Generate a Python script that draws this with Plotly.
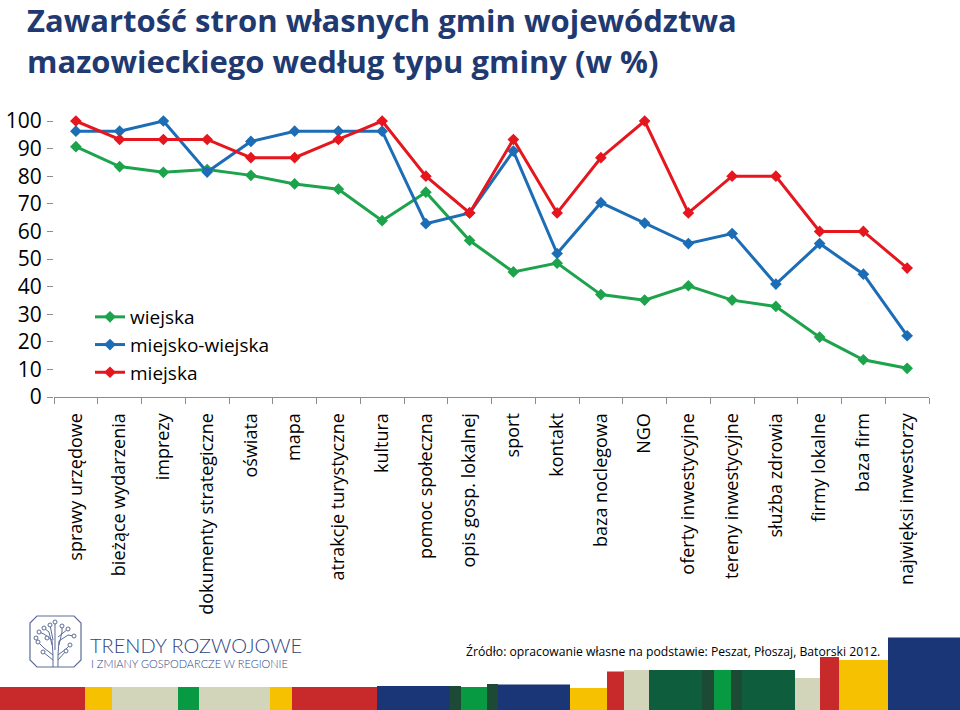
import plotly.graph_objects as go

categories = [
    "sprawy urzędowe", "bieżące wydarzenia", "imprezy", "dokumenty strategiczne",
    "oświata", "mapa", "atrakcje turystyczne", "kultura", "pomoc społeczna",
    "opis gosp. lokalnej", "sport", "kontakt", "baza noclegowa", "NGO",
    "oferty inwestycyjne", "tereny inwestycyjne", "służba zdrowia",
    "firmy lokalne", "baza firm", "najwięksi inwestorzy",
]
wiejska = [90.7, 83.5, 81.4, 82.4, 80.3, 77.2, 75.3, 63.9, 74.2, 56.7,
           45.3, 48.5, 37.1, 35.1, 40.3, 35.1, 32.8, 21.7, 13.5, 10.4]
miejsko_wiejska = [96.3, 96.3, 100.0, 81.5, 92.6, 96.3, 96.3, 96.3, 62.8, 66.7,
                   89.1, 52.0, 70.4, 63.0, 55.6, 59.2, 40.9, 55.6, 44.5, 22.2]
miejska = [100.0, 93.3, 93.3, 93.3, 86.7, 86.7, 93.3, 100.0, 80.0, 66.7,
           93.3, 66.7, 86.7, 100.0, 66.7, 80.0, 80.0, 60.0, 60.0, 46.7]
series_names = ["wiejska", "miejsko-wiejska", "miejska"]
y_ticks = [0, 10, 20, 30, 40, 50, 60, 70, 80, 90, 100]

title_lines = ["Zawartość stron własnych gmin województwa",
               "mazowieckiego według typu gminy (w %)"]
source_text = "Źródło: opracowanie własne na podstawie: Peszat, Płoszaj, Batorski 2012."
logo_line1 = "TRENDY ROZWOJOWE"
logo_line2 = "I ZMIANY GOSPODARCZE W REGIONIE"

# ---- geometry helpers (pixel -> paper) ----
W, H = 960, 710
L, R, T, B = 54, 929, 121, 397


def px(x):
    return (x - L) / (R - L)


def py(y):
    return (B - y) / (B - T)


colors = ["#1DA34C", "#1C6DB6", "#E5161D"]
series = [wiejska, miejsko_wiejska, miejska]

fig = go.Figure()
for name, vals, col in zip(series_names, series, colors):
    fig.add_trace(go.Scatter(
        x=categories, y=vals, name=name, mode="lines+markers",
        line=dict(color=col, width=3),
        marker=dict(symbol="diamond", size=9, color=col),
        cliponaxis=False,
    ))

annotations = []
for txt, yc in zip(title_lines, [19.5, 61]):
    annotations.append(dict(
        text=txt, xref="paper", yref="paper", x=px(26), y=py(yc),
        xanchor="left", yanchor="middle", showarrow=False, borderpad=0,
        font=dict(family="Open Sans", size=31, color="#1F3971", weight="bold"),
    ))
annotations.append(dict(
    text=source_text, xref="paper", yref="paper", x=px(464), y=py(651),
    xanchor="left", yanchor="middle", showarrow=False,
    font=dict(family="Open Sans", size=12.2, color="#000000"),
))
annotations.append(dict(
    text=logo_line1, xref="paper", yref="paper", x=px(88), y=py(645),
    xanchor="left", yanchor="middle", showarrow=False,
    font=dict(family="Lato", size=20, color="#2E4583", weight=300),
))
annotations.append(dict(
    text=logo_line2, xref="paper", yref="paper", x=px(89), y=py(663),
    xanchor="left", yanchor="middle", showarrow=False,
    font=dict(family="Lato", size=11, color="#2E4583", weight=300),
))

shapes = []
RED, YEL, BEI, GRN, NAV, DG, DG2 = ("#C8292B", "#F6C100", "#D3D5BA", "#079A42",
                                      "#1B3677", "#0E5D3C", "#1C4A34")
strips = [
    (0, 85, 687, RED), (85, 112, 687, YEL), (112, 178, 687, BEI), (178, 199, 687, GRN),
    (199, 270, 687, BEI), (270, 292, 687, YEL), (292, 377, 687, RED), (377, 450, 686, NAV),
    (450, 461, 686, DG2), (461, 487, 687, GRN), (487, 498, 684, DG2), (498, 570, 684.5, NAV),
    (570, 607, 688, YEL), (607, 624, 671.5, RED), (624, 649, 670, BEI), (649, 702, 670, DG),
    (702, 714, 670, DG2), (714, 731, 670, GRN), (731, 742, 670, DG2), (742, 795, 670, DG),
    (795, 820, 678, BEI), (820, 839, 657, RED), (839, 888, 660, YEL), (888, 960, 637.5, NAV),
]
for x0, x1, top, c in strips:
    shapes.append(dict(type="rect", xref="paper", yref="paper",
                       x0=px(x0), x1=px(x1), y0=py(710), y1=py(top),
                       fillcolor=c, line=dict(width=0), layer="below"))

# logo frame (rounded rect)
LC = "#5C6C98"


def path_px(points, close=False):
    s = "M " + " L ".join(f"{px(x):.5f},{py(y):.5f}" for x, y in points)
    return s + (" Z" if close else "")


fx0, fy0, fx1, fy1, r = 30, 616, 81, 667, 7
frame = [(fx0 + r, fy0), (fx1 - r, fy0), (fx1, fy0 + r), (fx1, fy1 - r), (fx1 - r, fy1),
         (fx0 + r, fy1), (fx0, fy1 - r), (fx0, fy0 + r)]
shapes.append(dict(type="path", xref="paper", yref="paper", path=path_px(frame, True),
                   line=dict(color=LC, width=1.2)))
branches = [
    [(53, 667), (53, 655), (44, 648), (38, 642)],
    [(58, 667), (58, 655), (66, 649), (70, 645)],
    [(53, 655), (52, 640), (44, 634), (39, 632)],
    [(58, 655), (59, 641), (68, 635), (74, 636)],
    [(52, 645), (49, 632), (44, 628)],
    [(59, 645), (62, 632), (62, 626)],
    [(55, 650), (55, 622)],
    [(53, 640), (50, 625)],
    [(58, 637), (68, 629)],
    [(53, 660), (43, 652)],
    [(58, 660), (66, 651)],
]
for b in branches:
    shapes.append(dict(type="path", xref="paper", yref="paper", path=path_px(b),
                       line=dict(color=LC, width=1)))
dots = [(38, 642), (70, 645), (39, 632), (74, 636), (44, 628), (62, 626), (55, 622),
        (50, 625), (68, 629), (43, 652), (66, 651), (36, 638), (47, 638)]
for x, y in dots:
    shapes.append(dict(type="circle", xref="paper", yref="paper",
                       x0=px(x - 2), x1=px(x + 2), y0=py(y + 2), y1=py(y - 2),
                       fillcolor="white", line=dict(color=LC, width=1)))

fig.update_layout(
    width=W, height=H,
    margin=dict(l=L, r=W - R, t=T, b=H - B, autoexpand=False),
    paper_bgcolor="white", plot_bgcolor="white",
    showlegend=True,
    legend=dict(x=px(90), y=py(298), xanchor="left", yanchor="top",
                bgcolor="rgba(0,0,0,0)", font=dict(family="Open Sans", size=19, color="#000"),
                itemwidth=30),
    annotations=annotations,
    shapes=shapes,
    xaxis=dict(
        type="category", showgrid=False, showline=True, linecolor="#8C8C8C", linewidth=1,
        ticks="outside", tickson="boundaries", ticklen=6, tickcolor="#8C8C8C",
        tickangle=-90, tickfont=dict(family="Open Sans", size=18, color="#000"),
        ticklabelstandoff=8, automargin=False,
        range=[-0.5, len(categories) - 0.5], zeroline=False,
    ),
    yaxis=dict(
        range=[0, 100], tickvals=y_ticks, showgrid=False, showline=False, zeroline=False,
        ticks="outside", ticklen=6, tickcolor="#8C8C8C", ticklabelstandoff=1,
        automargin=False,
        tickfont=dict(family="Open Sans", size=21, color="#000"),
    ),
)

post = (
    "document.documentElement.style.margin='0px';"
    "document.body.style.margin='0px';document.body.style.padding='0px';"
    "document.body.style.overflow='hidden';"
    "var d=document.getElementsByClassName('plotly-graph-div')[0];"
    "d.style.position='absolute';d.style.left='0px';d.style.top='0px';"
)
fig.write_html("out.html", config={"displayModeBar": False}, post_script=post)
